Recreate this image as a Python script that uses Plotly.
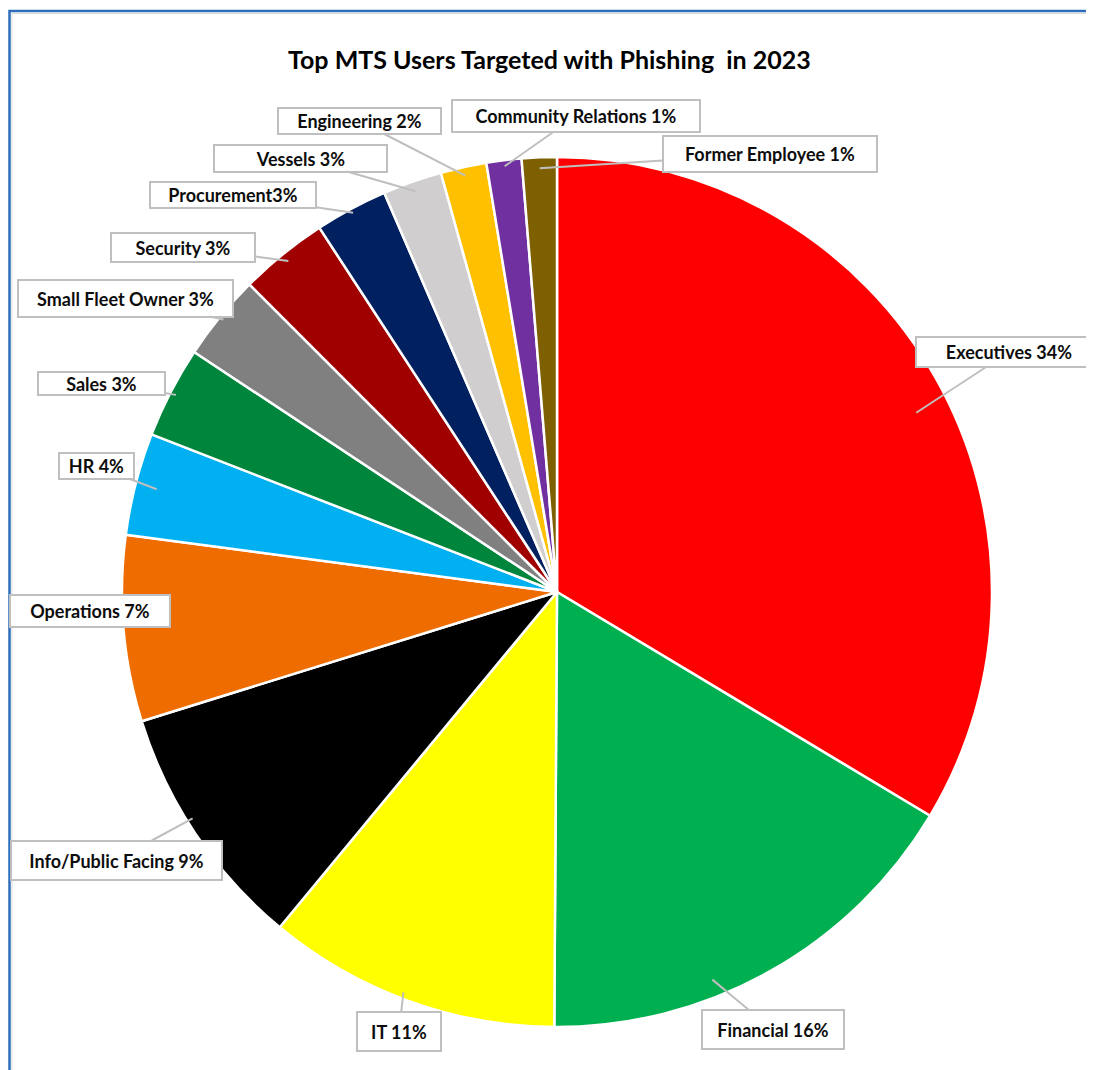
import math
import plotly.graph_objects as go

# ---- data ----
categories = ["Executives", "Financial", "IT", "Info/Public Facing", "Operations", "HR",
              "Sales", "Small Fleet Owner", "Security", "Procurement", "Vessels",
              "Engineering", "Community Relations", "Former Employee"]
values = [33.6, 16.5, 10.9, 9.2, 6.9, 3.8, 3.4, 3.2, 3.3, 2.7, 2.2, 1.7, 1.3, 1.3]
label_texts = ["Executives 34%", "Financial 16%", "IT 11%", "Info/Public Facing 9%",
               "Operations 7%", "HR 4%", "Sales 3%", "Small Fleet Owner 3%", "Security 3%",
               "Procurement3%", "Vessels 3%", "Engineering 2%", "Community Relations 1%",
               "Former Employee 1%"]
colors = ["#FF0000", "#00B050", "#FFFF00", "#000000", "#EE6C00", "#00B0F0", "#00853D",
          "#808080", "#A00000", "#002060", "#D0CECE", "#FFC000", "#7030A0", "#7F6000"]

# ---- layout (page pixels; the page body adds an 8px margin) ----
OFF = 8
W, H = 1094 - OFF, 1070 - OFF
CX, CY, R = 557 - OFF, 592 - OFF, 435
# label box: centre x, centre y, width, height (page pixels)
label_box = [(1009, 352, 186, 30), (773, 1030, 142, 39), (399, 1031, 84, 39),
             (116, 860, 211, 39), (90, 611, 160, 32), (96, 466, 75, 26),
             (101, 383, 127, 23), (125, 298, 215, 37), (183, 247, 144, 29),
             (233, 195, 166, 26), (300, 158, 173, 27), (359, 121, 163, 26),
             (576, 116, 248, 32), (770, 154, 214, 36)]
# pointer tip: radius fraction and angle offset (deg) from the slice mid-angle
tip_frac = [0.923, 0.96, 0.986, 0.986, 0.95, 0.95, 0.986, 0.99, 0.98, 0.99, 0.977,
            0.98, 0.986, 0.975]
tip_dang = [3, 7.5, 1, 2, 0, 0, 0, 0, 0, 0, 0, 0, 0, 0]

fig = go.Figure(go.Pie(
    labels=categories, values=values, sort=False, direction="clockwise", rotation=0,
    marker=dict(colors=colors, line=dict(color="white", width=2.5)),
    textinfo="none", hoverinfo="label+percent",
    domain=dict(x=[(CX - R) / W, (CX + R) / W], y=[1 - (CY + R) / H, 1 - (CY - R) / H]),
    showlegend=False,
))

FONT = "Lato, Open Sans, sans-serif"
total = sum(values)
annotations = []
cum = 0.0
for v, txt, (bx, by, bw, bh), f, da in zip(values, label_texts, label_box, tip_frac, tip_dang):
    mid = (cum + v / 2) / total * 2 * math.pi + math.radians(da)
    cum += v
    tx = CX + R * f * math.sin(mid)
    ty = CY - R * f * math.cos(mid)
    bx -= OFF
    by -= OFF
    annotations.append(dict(
        x=tx / W, y=1 - ty / H, xref="paper", yref="paper",
        ax=bx - tx, ay=by - ty, text="<b>" + txt + "</b>", showarrow=True, arrowhead=0,
        arrowwidth=2, arrowcolor="#BFBFBF",
        width=bw - 2, height=bh - 2, align="center", valign="middle",
        font=dict(family=FONT, size=18, color="#0D0D0D"),
        bgcolor="white", bordercolor="#BFBFBF", borderwidth=2, borderpad=0,
    ))

annotations.append(dict(
    x=(549 - OFF) / W, y=1 - (42 - OFF) / H, xref="paper", yref="paper", showarrow=False,
    text="<b>Top MTS Users Targeted with Phishing  in 2023</b>",
    font=dict(family=FONT, size=25, color="#000000"),
))

fig.update_layout(
    width=W, height=H, margin=dict(l=0, r=0, t=0, b=0),
    paper_bgcolor="white", plot_bgcolor="white",
    annotations=annotations,
    shapes=[
        dict(type="rect", xref="paper", yref="paper",
             x0=1.5 / W, x1=1.05, y0=-0.05, y1=1 - 3 / H,
             line=dict(color="#2E6DB9", width=2.5), layer="below"),
        dict(type="rect", xref="paper", yref="paper",
             x0=4 / W, x1=1.05, y0=-0.05, y1=1 - 5.5 / H,
             line=dict(color="#D9D9D9", width=1), layer="below"),
    ],
)

fig.write_html("out.html")
